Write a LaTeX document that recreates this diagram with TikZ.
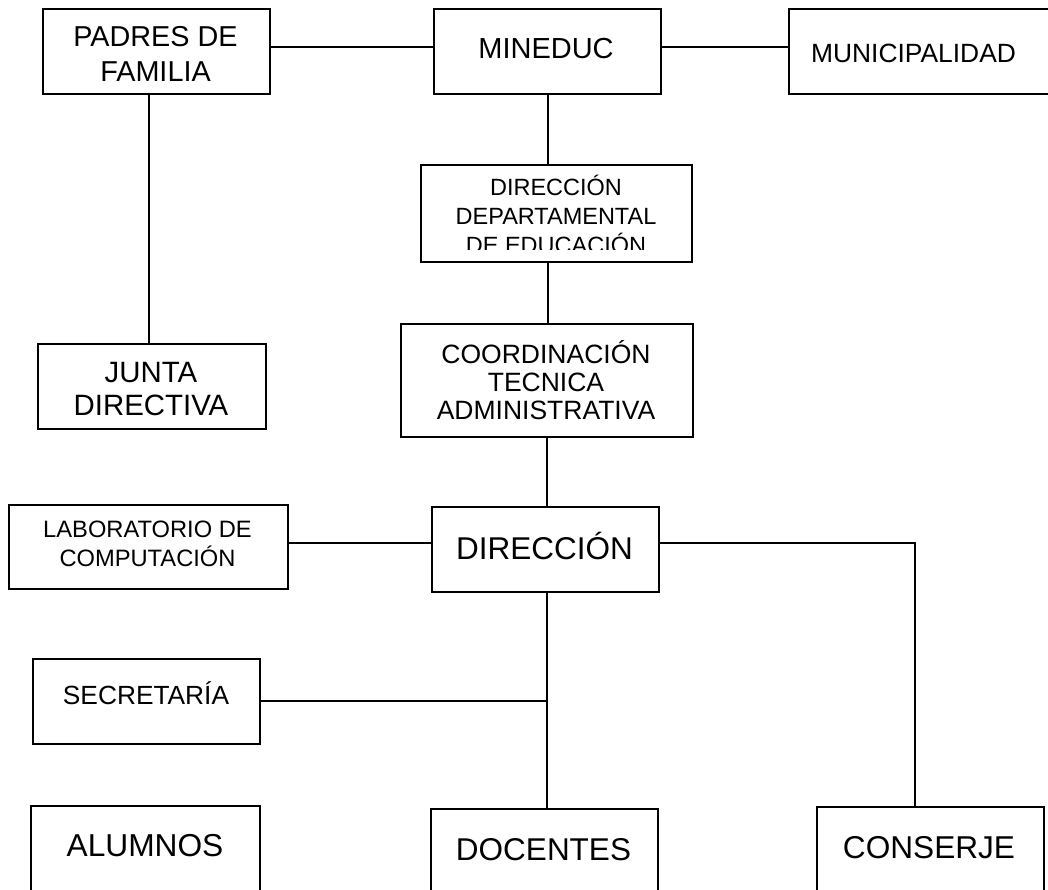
\documentclass[tikz,border=0pt]{standalone}
\usepackage{fontspec}
\setmainfont{Liberation Sans}
\usetikzlibrary{calc}
\tikzset{
  box/.style={draw=black, line width=1.8pt, rectangle, inner sep=0pt, anchor=north west},
  conn/.style={draw=black, line width=1.4pt},
  txt/.style={anchor=base, inner sep=0pt, text=black},
}
\newcommand{\fs}[1]{\fontsize{#1}{#1}\selectfont}
\begin{document}
\begin{tikzpicture}[x=1pt,y=-1pt]
\useasboundingbox (0,0) rectangle (1048,890);
% boxes
\node[box, minimum width=227pt, minimum height=85pt] (pad) at (42,8) {};
\node[box, minimum width=227pt, minimum height=85pt] (min) at (433,8) {};
\node[box, minimum width=272pt, minimum height=85pt] (mun) at (788,8) {};
\node[box, minimum width=271pt, minimum height=97pt] (dde) at (420,164) {};
\node[box, minimum width=228pt, minimum height=85pt] (jun) at (37,343) {};
\node[box, minimum width=292pt, minimum height=113pt] (coo) at (400,323) {};
\node[box, minimum width=279pt, minimum height=84pt] (lab) at (8,504) {};
\node[box, minimum width=227pt, minimum height=85pt] (dir) at (431,506) {};
\node[box, minimum width=227pt, minimum height=85pt] (sec) at (32,658) {};
\node[box, minimum width=229pt, minimum height=100pt] (alu) at (30,805) {};
\node[box, minimum width=227pt, minimum height=100pt] (doc) at (430,808) {};
\node[box, minimum width=227pt, minimum height=100pt] (con) at (816,806) {};
% texts
\node[txt, font=\fs{28.8}] (padA) at (155.5,47) {PADRES DE};
\node[txt, font=\fs{28.8}] (padB) at (155.5,82) {FAMILIA};
\node[txt, font=\fs{29}] (minA) at (546,59) {MINEDUC};
\node[txt, font=\fs{26.4}] (munA) at (913.5,63) {MUNICIPALIDAD};
\node[txt, font=\fs{23.5}] (ddeA) at (556,196) {DIRECCIÓN};
\node[txt, font=\fs{23.5}] (ddeB) at (556,225) {DEPARTAMENTAL};
\begin{scope}
\clip (420,230) rectangle (691,250);
\node[txt, font=\fs{23.5}] (ddeC) at (556,254) {DE EDUCACIÓN};
\end{scope}
\node[txt, font=\fs{26.5}] (cooA) at (546,363) {COORDINACIÓN};
\node[txt, font=\fs{26.5}] (cooB) at (546,391) {TECNICA};
\node[txt, font=\fs{26.5}] (cooC) at (546,419) {ADMINISTRATIVA};
\node[txt, font=\fs{29.4}] (junA) at (151,382) {JUNTA};
\node[txt, font=\fs{29.4}] (junB) at (151,415) {DIRECTIVA};
\node[txt, font=\fs{23.7}] (labA) at (147.5,537) {LABORATORIO DE};
\node[txt, font=\fs{23.7}] (labB) at (147.5,566) {COMPUTACIÓN};
\node[txt, font=\fs{31.5}] (dirA) at (544.5,559) {DIRECCIÓN};
\node[txt, font=\fs{26.3}] (secA) at (146,704) {SECRETARÍA};
\node[txt, font=\fs{31.7}] (aluA) at (145,856) {ALUMNOS};
\node[txt, font=\fs{31.5}] (docA) at (543.5,860) {DOCENTES};
\node[txt, font=\fs{31.6}] (conA) at (929,858) {CONSERJE};
% helper coordinates
\coordinate (yTop) at (0,47);
\coordinate (xMid) at (548,0);
\coordinate (xMid2) at (547,0);
\coordinate (xLeft) at (149,0);
\coordinate (yDir) at (0,543);
\coordinate (ySec) at (0,701);
\coordinate (xCon) at (915,0);
\coordinate (corner) at (915,543);
\coordinate (junction) at (547,701);
% connectors
\draw[conn] (pad.east |- yTop) -- (min.west |- yTop);
\draw[conn] (min.east |- yTop) -- (mun.west |- yTop);
\draw[conn] (xMid |- min.south) -- (xMid |- dde.north);
\draw[conn] (xMid |- dde.south) -- (xMid |- coo.north);
\draw[conn] (xMid2 |- coo.south) -- (xMid2 |- dir.north);
\draw[conn] (xLeft |- pad.south) -- (xLeft |- jun.north);
\draw[conn] (lab.east |- yDir) -- (dir.west |- yDir);
\draw[conn] (dir.east |- yDir) -- (corner) -- (xCon |- con.north);
\draw[conn] (xMid2 |- dir.south) -- (xMid2 |- doc.north);
\draw[conn] (sec.east |- ySec) -- (junction);
\end{tikzpicture}
\end{document}
